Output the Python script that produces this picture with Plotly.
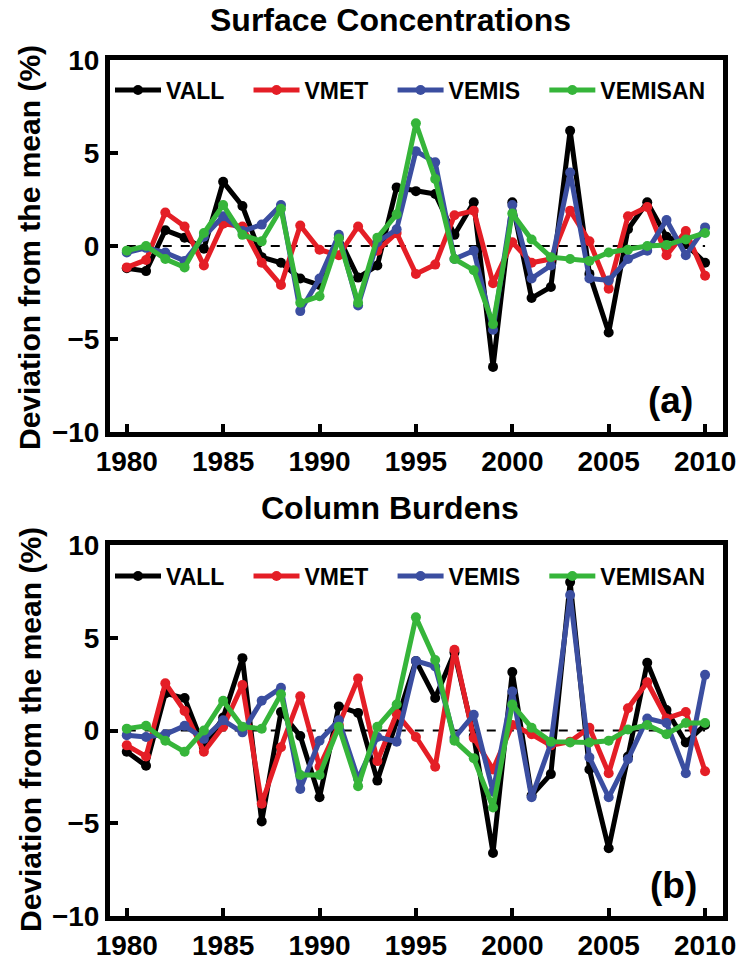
import plotly.graph_objects as go

years = list(range(1980, 2011))
series_names = ["VALL", "VMET", "VEMIS", "VEMISAN"]
colors = ["#000000", "#e41e26", "#3b4ea0", "#36b53a"]

# (a) Surface Concentrations
vall_a = [-1.2, -1.35, 0.85, 0.45, -0.15, 3.45, 2.15, -0.6, -0.9, -1.75, -2.1, 0.45, -1.7, -1.05, 3.15,
          2.95, 2.8, 0.6, 2.35, -6.5, 2.35, -2.8, -2.2, 6.2, -1.5, -4.65, 0.9, 2.35, 0.5, 0.1, -0.9]
vmet_a = [-1.15, -0.75, 1.8, 1.05, -1.05, 1.2, 1.05, -0.9, -2.1, 1.1, -0.2, -0.5, 1.05, -0.25, 0.7,
          -1.5, -1.0, 1.65, 1.9, -2.0, 0.2, -0.9, -0.7, 1.9, 0.25, -2.3, 1.6, 2.1, -0.5, 0.8, -1.6]
vemis_a = [-0.35, -0.1, -0.35, -0.8, 0.5, 1.6, 0.8, 1.15, 2.2, -3.5, -1.75, 0.6, -3.2, 0.2, 0.9,
           5.1, 4.5, -0.7, -0.25, -4.5, 2.2, -1.75, -1.05, 3.95, -1.75, -1.85, -0.7, -0.25, 1.4, -0.5, 1.0]
vemisan_a = [-0.25, 0.0, -0.7, -1.15, 0.7, 2.2, 0.6, 0.25, 2.0, -3.05, -2.7, 0.4, -3.05, 0.45, 1.7,
             6.6, 3.6, -0.7, -1.3, -4.2, 1.75, 0.35, -0.6, -0.7, -0.8, -0.35, -0.2, 0.0, 0.05, 0.35, 0.7]

# (b) Column Burdens
vall_b = [-1.15, -1.9, 2.0, 1.75, -0.9, 0.7, 3.9, -4.9, 1.0, -0.3, -3.6, 1.3, 0.95, -2.7, 0.5,
          3.75, 1.75, 4.2, -0.3, -6.6, 3.15, -3.5, -2.35, 8.0, -2.1, -6.35, -1.4, 3.65, 1.1, -0.65, 0.3]
vmet_b = [-0.8, -1.4, 2.55, 1.05, -1.15, 0.2, 2.45, -3.95, -0.9, 1.85, -1.95, 0.3, 2.8, -1.65, 0.9,
          -0.35, -1.95, 4.35, -0.4, -2.1, 0.3, -0.2, -0.8, -0.6, 0.15, -2.3, 1.2, 2.6, 0.65, 1.0, -2.2]
vemis_b = [-0.25, -0.35, -0.2, 0.25, -0.45, 0.55, -0.1, 1.6, 2.3, -3.15, -0.55, 0.55, -2.6, -0.35, -0.6,
           3.75, 3.45, -0.4, 0.85, -3.3, 2.1, -3.6, -0.7, 7.3, -1.45, -3.6, -1.55, 0.65, 0.4, -2.3, 3.0]
vemisan_b = [0.1, 0.25, -0.55, -1.15, 0.0, 1.6, 0.2, 0.1, 1.95, -2.4, -2.4, 0.2, -3.0, 0.2, 1.4,
             6.1, 3.8, -0.55, -1.5, -4.15, 1.4, 0.15, -0.6, -0.65, -0.65, -0.55, 0.05, 0.3, -0.2, 0.4, 0.4]

panel_a = [vall_a, vmet_a, vemis_a, vemisan_a]
panel_b = [vall_b, vmet_b, vemis_b, vemisan_b]

x_ticks = [1980, 1985, 1990, 1995, 2000, 2005, 2010]
y_ticks = [-10, -5, 0, 5, 10]
titles = ["Surface Concentrations", "Column Burdens"]
panel_labels = ["(a)", "(b)"]
ylabel = "Deviation from the mean (%)"

FONT = "Liberation Sans, Arial, Helvetica, sans-serif"
PAD = "\u00a0" * 3  # trailing space to widen legend entries (not on last entry)

def legend_name(i, name):
    return name + (PAD if i < len(series_names) - 1 else "")

fig = go.Figure()
for i, (vals, col, name) in enumerate(zip(panel_a, colors, series_names)):
    fig.add_trace(go.Scatter(x=years, y=vals, name=legend_name(i, name), mode="lines+markers",
                             line=dict(color=col, width=5), marker=dict(color=col, size=10),
                             xaxis="x", yaxis="y", legend="legend"))
for i, (vals, col, name) in enumerate(zip(panel_b, colors, series_names)):
    fig.add_trace(go.Scatter(x=years, y=vals, name=legend_name(i, name), mode="lines+markers",
                             line=dict(color=col, width=5), marker=dict(color=col, size=10),
                             xaxis="x2", yaxis="y2", legend="legend2"))

W, H = 752, 964
ml, mr, mt, mb = 110, 29, 60, 48
ph = H - mt - mb
PB = H - mb  # pixel y of plot-area bottom
top_dom = [(PB - 432) / ph, 1.0]
bot_dom = [0.0, (PB - 545) / ph]

def xax(anchor):
    return dict(range=[1979.13, 2010.93], tickvals=x_ticks, ticks="inside", ticklen=8, tickwidth=4,
                tickcolor="black", showline=True, linewidth=5, linecolor="black", mirror=True,
                showgrid=False, zeroline=False, anchor=anchor, automargin=False,
                tickfont=dict(size=28, family=FONT, color="black", weight="bold"))

def yax(anchor, dom):
    return dict(range=[-10, 10], tickvals=y_ticks, ticks="inside", ticklen=8, tickwidth=4,
                tickcolor="black", showline=True, linewidth=5, linecolor="black", mirror=True,
                showgrid=False, zeroline=False, anchor=anchor, domain=dom, automargin=False,
                tickfont=dict(size=28, family=FONT, color="black", weight="bold"))

leg_common = dict(orientation="h", xanchor="left", yanchor="middle", x=0.0,
                  bgcolor="rgba(0,0,0,0)", font=dict(size=23, family=FONT, color="black", weight="bold"),
                  itemwidth=46, tracegroupgap=0)

fig.update_layout(
    width=W, height=H, margin=dict(l=ml, r=mr, t=mt, b=mb, autoexpand=False),
    paper_bgcolor="white", plot_bgcolor="white",
    xaxis=xax("y"), yaxis=yax("x", top_dom),
    xaxis2=xax("y2"), yaxis2=yax("x2", bot_dom),
    legend=dict(y=(PB - 90) / ph, **leg_common),
    legend2=dict(y=(PB - 576) / ph, **leg_common),
    showlegend=True,
)

# zero reference lines
for xr, yr in [("x", "y"), ("x2", "y2")]:
    fig.add_shape(type="line", xref=xr, yref=yr, x0=x_ticks[0], x1=x_ticks[-1], y0=0, y1=0,
                  line=dict(color="black", width=2, dash="dash"), layer="below")

# titles
for txt, ypix in zip(titles, [20, 508]):
    fig.add_annotation(text=txt, xref="paper", yref="paper", x=(390 - ml) / (W - ml - mr),
                       y=(PB - ypix) / ph, showarrow=False, xanchor="center", yanchor="middle",
                       font=dict(size=32, family=FONT, color="black", weight="bold"))

# y labels
for ypix in [248, 730]:
    fig.add_annotation(text=ylabel, xref="paper", yref="paper", x=(30 - ml) / (W - ml - mr),
                       y=(PB - ypix) / ph, showarrow=False, textangle=-90,
                       xanchor="center", yanchor="middle",
                       font=dict(size=30, family=FONT, color="black", weight="bold"))

# panel labels
for txt, xpix, ypix in zip(panel_labels, [670, 673], [400, 885]):
    fig.add_annotation(text=txt, xref="paper", yref="paper", x=(xpix - ml) / (W - ml - mr),
                       y=(PB - ypix) / ph, showarrow=False, xanchor="center", yanchor="middle",
                       font=dict(size=37, family=FONT, color="black", weight="bold"))

fig.write_html("out.html")
